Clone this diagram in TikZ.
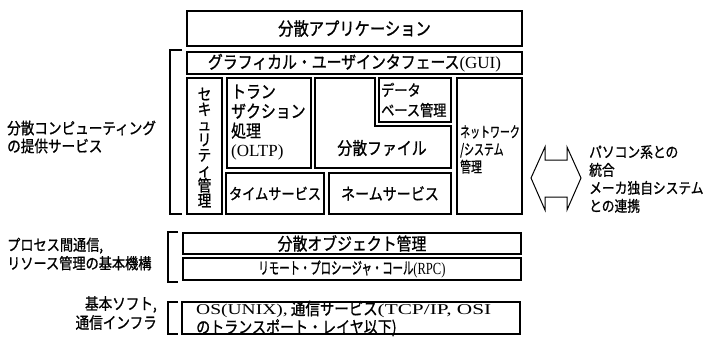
\documentclass[tikz,border=0pt]{standalone}
\usepackage{fontspec}
\usepackage{graphicx}
\setmainfont{Liberation Serif}
\newfontfamily\jp[FakeBold=1,FakeStretch=0.85]{Noto Sans CJK JP}
\newcommand\fsz[2]{\fontsize{#1}{#2}\selectfont}
\newcommand\sx[2]{\scalebox{#1}[1]{#2}}
\begin{document}
\begin{tikzpicture}[x=1pt,y=-1pt,
  box/.style={draw, line width=1.6pt, inner sep=0pt},
  txt/.style={inner sep=0pt, align=left},
  brk/.style={line width=1.5pt},
  dbl/.style={line width=1pt, line join=miter}]
\useasboundingbox[fill=white] (0,0) rectangle (706,337);

% top layers
\node[box, minimum width=335, minimum height=35] (app) at (354.5,28.5) {\jp\fsz{18}{19}分散アプリケーション};
\node[box, minimum width=335, minimum height=22] (gui) at (354.5,63) {\jp\fsz{17.5}{18}グラフィカル・ユーザインタフェース{\rmfamily\fsz{17}{18}(GUI)}};

% middle services
\node[box, minimum width=35, minimum height=136] (sec) at (204.5,146) {};
\node[txt, align=center, font=\jp\fsz{16}{15.2}] (sect) at (204.5,147.5) {セ\\キ\\ュ\\リ\\テ\\ィ\\管\\理};

\node[box, minimum width=84, minimum height=90] (oltp) at (269,123) {};
\node[txt, anchor=west, font=\jp\fsz{17.5}{19.6}] (oltpt) at (231,122.5) {トラン\\ザクション\\処理\\{\rmfamily\fsz{17}{19.6}(OLTP)}};

\coordinate (f1) at (315,78);
\coordinate (f2) at (375,78);
\coordinate (f3) at (375,126);
\coordinate (f4) at (451,126);
\coordinate (f5) at (451,168);
\coordinate (f6) at (315,168);
\draw[line width=1.6pt] (f1) -- (f2) -- (f3) -- (f4) -- (f5) -- (f6) -- cycle;
\node[txt, font=\jp\fsz{17.5}{18}] (filet) at (382,148) {分散ファイル};

\node[box, minimum width=72, minimum height=44] (db) at (415,100) {};
\node[txt, anchor=west, font=\jp\fsz{15.5}{20}] (dbt) at (381,100) {データ\\ベース管理};

\node[box, minimum width=98, minimum height=41] (time) at (275,193.5) {\jp\fsz{15.5}{16}タイムサービス};
\node[box, minimum width=122, minimum height=41] (name) at (390,193.5) {\jp\fsz{16.5}{17}ネームサービス};

\node[box, minimum width=65, minimum height=136] (net) at (489.5,146) {};
\node[txt, anchor=west, font=\jp\fsz{15}{17.5}] (nett) at (460,149.5) {\sx{0.78}{ネットワーク}\\\sx{0.78}{/システム}\\\sx{0.85}{管理}};

% lower layers
\node[box, minimum width=338, minimum height=21] (dobj) at (352,243.5) {\jp\fsz{17.5}{18}分散オブジェクト管理};
\node[box, minimum width=338, minimum height=22] (rpc) at (352,269) {\sx{0.74}{\jp\fsz{16.5}{17}リモート・プロシージャ・コール{\rmfamily\fsz{17}{17}(RPC)}}};
\node[box, minimum width=338, minimum height=32] (os) at (351,318) {};
\node[txt, anchor=west, font=\jp\fsz{17}{15.5}] (ost) at (196,318.5) {\sx{1.3}{\rmfamily\fsz{15}{15.5}OS(UNIX),} 通信サービス\sx{1.42}{\rmfamily\fsz{15}{15.5}(TCP/IP, OSI}\\{\fsz{16.5}{15.5}のトランスポート・レイヤ以下)}};

% brackets
\coordinate (b1a) at (182,50);
\coordinate (b1b) at (170,50);
\coordinate (b1c) at (170,214);
\coordinate (b1d) at (182,214);
\draw[brk] (b1a) -- (b1b) -- (b1c) -- (b1d);
\coordinate (b2a) at (178,232);
\coordinate (b2b) at (168,232);
\coordinate (b2c) at (168,282);
\coordinate (b2d) at (178,282);
\draw[brk] (b2a) -- (b2b) -- (b2c) -- (b2d);
\coordinate (b3a) at (178,302);
\coordinate (b3b) at (168,302);
\coordinate (b3c) at (168,334);
\coordinate (b3d) at (178,334);
\draw[brk] (b3a) -- (b3b) -- (b3c) -- (b3d);

% left labels
\node[txt, anchor=west, font=\jp\fsz{16}{18}] (l1) at (7,137) {分散コンピューティング\\の提供サービス};
\node[txt, anchor=west, font=\jp\fsz{15.5}{18.5}] (l2) at (7,254) {プロセス間通信,\\リソース管理の基本機構};
\node[txt, anchor=east, align=right, font=\jp\fsz{16}{19}] (l3) at (157,313) {基本ソフト,\\通信インフラ};

% double arrow
\coordinate (a1) at (531,178);
\coordinate (a2) at (545,147);
\coordinate (a3) at (545,160);
\coordinate (a4) at (567,160);
\coordinate (a5) at (567,147);
\coordinate (a6) at (581,178);
\coordinate (a7) at (567,210);
\coordinate (a8) at (567,197);
\coordinate (a9) at (545,197);
\coordinate (a10) at (545,210);
\draw[dbl] (a1) -- (a2) -- (a3) -- (a4) -- (a5) -- (a6) -- (a7) -- (a8) -- (a9) -- (a10) -- cycle;

% right label
\node[txt, anchor=west, font=\jp\fsz{15}{18}] (r1) at (589,179) {パソコン系との\\統合\\メーカ独自システム\\との連携};
\end{tikzpicture}
\end{document}
